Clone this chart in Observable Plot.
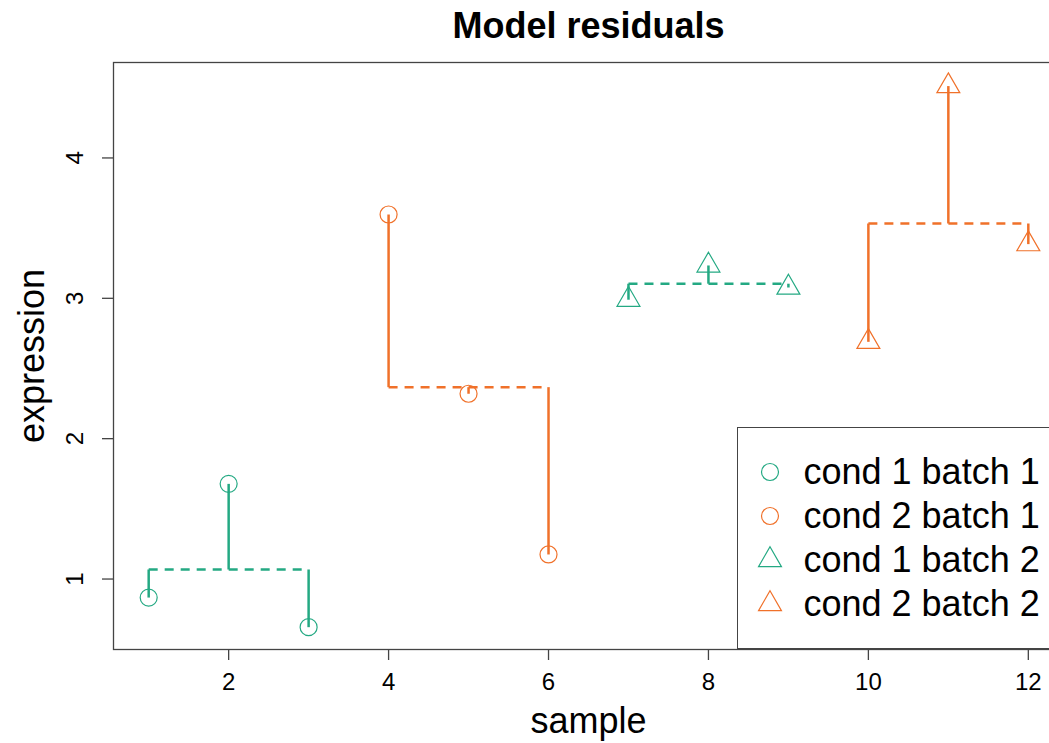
<!DOCTYPE html>
<html>
<head>
<meta charset="utf-8">
<script src="https://cdn.jsdelivr.net/npm/d3@7"></script>
<script src="https://cdn.jsdelivr.net/npm/@observablehq/plot@0.6"></script>
<style>
  html, body { margin: 0; padding: 0; background: white; }
  #wrap { position: relative; width: 1049px; height: 743px; overflow: hidden; background: white; font-family: "Liberation Sans", Arial, Helvetica, sans-serif; }
  #wrap svg.plot { max-width: none !important; display: block; }
  #legend { position: absolute; left: 736.5px; top: 426.5px; width: 330px; height: 222px; border: 1.3px solid #444; box-sizing: border-box; background: white; }
  .lrow { position: absolute; left: 0; height: 44px; }
  .lrow svg { position: absolute; left: 19px; top: 9px; overflow: visible; }
  .lrow span { position: absolute; left: 66px; top: 0; font-size: 36px; line-height: 44px; white-space: nowrap; color: #000; }
</style>
</head>
<body>
<div id="wrap"></div>
<script>
// ---- data ----
const samples    = [1, 2, 3, 4, 5, 6, 7, 8, 9, 10, 11, 12];
const expression = [0.868, 1.678, 0.657, 3.597, 2.320, 1.175, 2.990, 3.234, 3.077, 2.690, 4.512, 3.386];
const condition  = ["cond 1","cond 1","cond 1","cond 2","cond 2","cond 2","cond 1","cond 1","cond 1","cond 2","cond 2","cond 2"];
const batch      = ["batch 1","batch 1","batch 1","batch 1","batch 1","batch 1","batch 2","batch 2","batch 2","batch 2","batch 2","batch 2"];
const groupLabels = ["cond 1 batch 1", "cond 2 batch 1", "cond 1 batch 2", "cond 2 batch 2"];
const groupFit    = [1.068, 2.367, 3.104, 3.533];
const xTicks = [2, 4, 6, 8, 10, 12];
const yTicks = [1, 2, 3, 4];
const condDomain  = ["cond 1", "cond 2"];
const condColors  = ["#24a983", "#f0712a"];
const batchDomain = ["batch 1", "batch 2"];
const batchSymbols = ["circle", "triangle"];

// ---- tables built from the arrays ----
const rows = samples.map((s, i) => ({
  sample: s, expression: expression[i], cond: condition[i], batch: batch[i],
  group: condition[i] + " " + batch[i]
}));
rows.forEach(r => { r.fit = groupFit[groupLabels.indexOf(r.group)]; });
const groups = groupLabels.map((g, i) => {
  const members = rows.filter(r => r.group === g);
  return { group: g, cond: members[0].cond, batch: members[0].batch,
           start: d3.min(members, r => r.sample), end: d3.max(members, r => r.sample), fit: groupFit[i] };
});

const W = 1063, H = 743, ML = 113, MR = 0, MT = 62, MB = 94;
const font = "'Liberation Sans', Arial, Helvetica, sans-serif";
const chart = Plot.plot({
  width: W,
  height: H,
  marginLeft: ML,
  marginRight: MR,
  marginTop: MT,
  marginBottom: MB,
  x: { domain: [0.56, 12.44], axis: null },
  y: { domain: [0.498, 4.68], axis: null },
  color: { domain: condDomain, range: condColors },
  symbol: { domain: batchDomain, range: batchSymbols },
  style: { fontFamily: font, fontSize: "24px", background: "white", color: "#000" },
  marks: [
    Plot.frame({ stroke: "#444", strokeWidth: 1.3 }),
    // x ticks and labels
    Plot.ruleX(xTicks, { x: d => d, insetTop: H - MT - MB, insetBottom: -11, stroke: "#444", strokeWidth: 1.3 }),
    Plot.text(xTicks, { x: d => d, text: d => String(d), frameAnchor: "bottom", dy: 23, lineAnchor: "top",
                        textAnchor: "middle", fontSize: 24 }),
    // y ticks and labels
    Plot.ruleY(yTicks, { y: d => d, insetRight: W - ML - MR, insetLeft: -11, stroke: "#444", strokeWidth: 1.3 }),
    Plot.text(yTicks, { y: d => d, text: d => String(d), frameAnchor: "left", dx: -38, lineAnchor: "middle",
                        textAnchor: "middle", rotate: -90, fontSize: 24 }),
    // fitted group means (dashed) and residual segments (solid)
    Plot.link(groups, { x1: "start", x2: "end", y1: "fit", y2: "fit", stroke: "cond",
                        strokeWidth: 2.5, strokeDasharray: "9,7" }),
    Plot.link(rows, { x1: "sample", x2: "sample", y1: "fit", y2: "expression", stroke: "cond", strokeWidth: 2.5 }),
    Plot.dot(rows, { x: "sample", y: "expression", stroke: "cond", symbol: "batch", r: 8.5,
                     strokeWidth: 1.2, fill: "none" }),
    Plot.text(["Model residuals"], { text: d => d, frameAnchor: "top", dy: -24.5, lineAnchor: "bottom",
                                     textAnchor: "middle", fontSize: 36, fontWeight: "bold" }),
    Plot.text(["sample"], { text: d => d, frameAnchor: "bottom", dy: 83.5, lineAnchor: "bottom",
                            textAnchor: "middle", fontSize: 36 }),
    Plot.text(["expression"], { text: d => d, frameAnchor: "left", dx: -70, lineAnchor: "bottom",
                                textAnchor: "middle", rotate: -90, fontSize: 36 })
  ]
});
chart.style.maxWidth = "none";
const wrap = document.getElementById("wrap");
wrap.appendChild(chart);

// ---- legend ----
const legend = document.createElement("div");
legend.id = "legend";
const colorOf = d3.scaleOrdinal(condDomain, condColors);
const symOf = d3.scaleOrdinal(batchDomain, [d3.symbolCircle, d3.symbolTriangle]);
groups.forEach((g, i) => {
  const row = document.createElement("div");
  row.className = "lrow";
  row.style.top = (22 + i * 44) + "px";
  const svg = d3.create("svg").attr("width", 26).attr("height", 26);
  svg.append("path")
    .attr("transform", "translate(13,13)")
    .attr("d", d3.symbol(symOf(g.batch), Math.PI * 8.5 * 8.5)())
    .attr("fill", "none")
    .attr("stroke", colorOf(g.cond))
    .attr("stroke-width", 1.2);
  row.appendChild(svg.node());
  const span = document.createElement("span");
  span.textContent = g.group;
  row.appendChild(span);
  legend.appendChild(row);
});
wrap.appendChild(legend);
</script>
</body>
</html>
